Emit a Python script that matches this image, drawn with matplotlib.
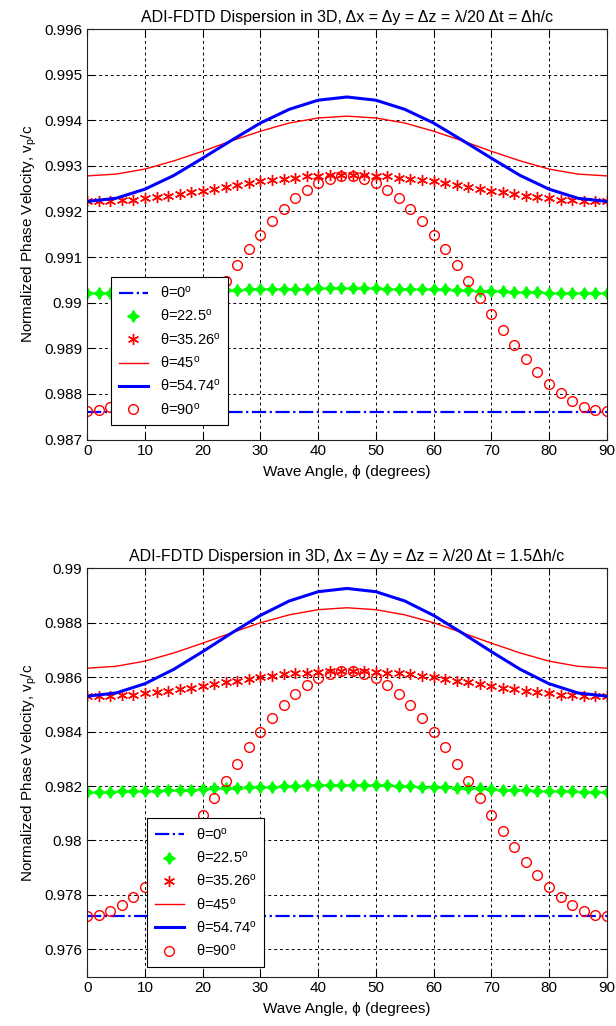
import numpy as np
import matplotlib
matplotlib.use("Agg")
import matplotlib.pyplot as plt

plt.rcParams['font.family'] = ['Liberation Sans', 'DejaVu Sans']
plt.rcParams['mathtext.fontset'] = 'custom'
plt.rcParams['mathtext.rm'] = 'Liberation Sans'
plt.rcParams['mathtext.it'] = 'Liberation Sans'

# wave angle samples
phi = list(range(0, 91, 2))      # marker series, 2 degree steps
phi_line = list(range(0, 91, 5))  # line series, 5 degree steps
phi_flat = [0, 90]

labels = [r'θ=0$^{\mathrm{o}}$', r'θ=22.5$^{\mathrm{o}}$', r'θ=35.26$^{\mathrm{o}}$',
          r'θ=45$^{\mathrm{o}}$', r'θ=54.74$^{\mathrm{o}}$', r'θ=90$^{\mathrm{o}}$']

# ---- dt = dh/c ----
a_t0 = [0.98761, 0.98761]
a_t22 = [0.99021, 0.99021, 0.99021, 0.99021, 0.99022, 0.99022, 0.99023, 0.99023,
         0.99024, 0.99025, 0.99026, 0.99026, 0.99027, 0.99028, 0.99029, 0.99029,
         0.99030, 0.99030, 0.99031, 0.99031, 0.99032, 0.99032, 0.99032,
         0.99032, 0.99032, 0.99032, 0.99031, 0.99031, 0.99030, 0.99030, 0.99029,
         0.99029, 0.99028, 0.99027, 0.99026, 0.99026, 0.99025, 0.99024, 0.99023,
         0.99023, 0.99022, 0.99022, 0.99021, 0.99021, 0.99021, 0.99021]
a_t35 = [0.99222, 0.99222, 0.99223, 0.99225, 0.99226, 0.99229, 0.99232, 0.99235,
         0.99238, 0.99242, 0.99246, 0.99250, 0.99254, 0.99258, 0.99262, 0.99266,
         0.99269, 0.99272, 0.99274, 0.99277, 0.99278, 0.99279, 0.99280,
         0.99280, 0.99279, 0.99278, 0.99277, 0.99274, 0.99272, 0.99269, 0.99266,
         0.99262, 0.99258, 0.99254, 0.99250, 0.99246, 0.99242, 0.99238, 0.99235,
         0.99232, 0.99229, 0.99226, 0.99225, 0.99223, 0.99222, 0.99222]
a_t45 = [0.99278, 0.99282, 0.99293, 0.99311, 0.99332, 0.99355, 0.99376, 0.99394,
         0.99405, 0.99409, 0.99405, 0.99394, 0.99376, 0.99355, 0.99332, 0.99311,
         0.99293, 0.99282, 0.99278]
a_t54 = [0.99222, 0.99229, 0.99249, 0.99279, 0.99317, 0.99356, 0.99394, 0.99424,
         0.99444, 0.99451, 0.99444, 0.99424, 0.99394, 0.99356, 0.99317, 0.99279,
         0.99249, 0.99229, 0.99222]
a_t90 = [0.98762, 0.98765, 0.98772, 0.98784, 0.98801, 0.98822, 0.98847, 0.98876,
         0.98907, 0.98940, 0.98975, 0.99011, 0.99047, 0.99082, 0.99117, 0.99149,
         0.99179, 0.99206, 0.99229, 0.99248, 0.99262, 0.99272, 0.99277,
         0.99277, 0.99272, 0.99262, 0.99248, 0.99229, 0.99206, 0.99179, 0.99149,
         0.99117, 0.99082, 0.99047, 0.99011, 0.98975, 0.98940, 0.98907, 0.98876,
         0.98847, 0.98822, 0.98801, 0.98784, 0.98772, 0.98765, 0.98762]

# ---- dt = 1.5 dh/c ----
b_t0 = [0.97723, 0.97723]
b_t22 = [0.98179, 0.98179, 0.98179, 0.98180, 0.98181, 0.98182, 0.98183, 0.98184,
         0.98186, 0.98187, 0.98189, 0.98191, 0.98192, 0.98194, 0.98196, 0.98197,
         0.98198, 0.98200, 0.98201, 0.98202, 0.98202, 0.98203, 0.98203,
         0.98203, 0.98203, 0.98202, 0.98202, 0.98201, 0.98200, 0.98198, 0.98197,
         0.98196, 0.98194, 0.98192, 0.98191, 0.98189, 0.98187, 0.98186, 0.98184,
         0.98183, 0.98182, 0.98181, 0.98180, 0.98179, 0.98179, 0.98179]
b_t35 = [0.98529, 0.98529, 0.98531, 0.98533, 0.98536, 0.98540, 0.98545, 0.98550,
         0.98555, 0.98561, 0.98568, 0.98574, 0.98581, 0.98587, 0.98594, 0.98600,
         0.98605, 0.98610, 0.98614, 0.98617, 0.98620, 0.98622, 0.98623,
         0.98623, 0.98622, 0.98620, 0.98617, 0.98614, 0.98610, 0.98605, 0.98600,
         0.98594, 0.98587, 0.98581, 0.98574, 0.98568, 0.98561, 0.98555, 0.98550,
         0.98545, 0.98540, 0.98536, 0.98533, 0.98531, 0.98529, 0.98529]
b_t45 = [0.98633, 0.98640, 0.98659, 0.98689, 0.98725, 0.98763, 0.98800, 0.98829,
         0.98848, 0.98855, 0.98848, 0.98829, 0.98800, 0.98763, 0.98725, 0.98689,
         0.98659, 0.98640, 0.98633]
b_t54 = [0.98530, 0.98542, 0.98576, 0.98629, 0.98694, 0.98762, 0.98827, 0.98880,
         0.98914, 0.98926, 0.98914, 0.98880, 0.98827, 0.98762, 0.98694, 0.98629,
         0.98576, 0.98542, 0.98530]
b_t90 = [0.97723, 0.97727, 0.97740, 0.97762, 0.97791, 0.97828, 0.97872, 0.97921,
         0.97976, 0.98034, 0.98095, 0.98157, 0.98220, 0.98282, 0.98342, 0.98398,
         0.98450, 0.98497, 0.98537, 0.98570, 0.98596, 0.98613, 0.98622,
         0.98622, 0.98613, 0.98596, 0.98570, 0.98537, 0.98497, 0.98450, 0.98398,
         0.98342, 0.98282, 0.98220, 0.98157, 0.98095, 0.98034, 0.97976, 0.97921,
         0.97872, 0.97828, 0.97791, 0.97762, 0.97740, 0.97727, 0.97723]

titles = [r'ADI-FDTD Dispersion in 3D, Δx = Δy = Δz = λ/20 Δt = Δh/c',
          r'ADI-FDTD Dispersion in 3D, Δx = Δy = Δz = λ/20 Δt = 1.5Δh/c']

fig = plt.figure(figsize=(6.16, 10.26), dpi=100)
ax1 = fig.add_axes([0.1417, 0.5716, 0.8432, 0.4001])
ax2 = fig.add_axes([0.1417, 0.0482, 0.8432, 0.3979])

star4 = (4, 1, 0)      # four-point star
asterisk = (6, 2, 0)   # six-spoke asterisk


def draw(ax, t0, t22, t35, t45, t54, t90, yticks, ylim, title, leg_xy):
    ax.plot(phi_flat, t0, color='b', ls='-.', lw=1.6, label=labels[0])
    ax.plot(phi, t22, ls='none', marker=star4, ms=8.5, color='#00ff00',
            mec='#00ff00', mew=1.0, label=labels[1])
    ax.plot(phi, t35, ls='none', marker=asterisk, ms=8, color='r',
            mew=1.0, label=labels[2])
    ax.plot(phi_line, t45, color='r', lw=1.0, label=labels[3])
    ax.plot(phi_line, t54, color='b', lw=2.2, label=labels[4])
    ax.plot(phi, t90, ls='none', marker='o', ms=7, mfc='none', mec='r',
            mew=1.0, label=labels[5])

    ax.set_xlim(0, 90)
    ax.set_ylim(*ylim)
    ax.set_xticks(range(0, 91, 10))
    ax.set_yticks(yticks)
    ax.set_yticklabels(['%g' % v for v in yticks])
    ax.tick_params(direction='in', length=5, top=True, right=True,
                   labelsize=11, width=0.8)
    ax.grid(True, color='k', ls=(0, (3, 3)), lw=0.7)
    for s in ax.spines.values():
        s.set_linewidth(0.8)
        s.set_color('#222222')
    ax.set_title(title, fontsize=11.5, pad=5)
    ax.set_xlabel('Wave Angle, ϕ (degrees)', fontsize=11, labelpad=5)
    ax.set_ylabel(r'Normalized Phase Velocity, v$_p$/c', fontsize=11, labelpad=4)
    leg = ax.legend(loc='upper left', bbox_to_anchor=leg_xy, fontsize=10.5,
                    fancybox=False, framealpha=1, edgecolor='k',
                    borderaxespad=0, handlelength=2.0, handletextpad=0.8,
                    borderpad=0.55, labelspacing=0.5)
    leg.get_frame().set_linewidth(0.8)


draw(ax1, a_t0, a_t22, a_t35, a_t45, a_t54, a_t90,
     [0.987, 0.988, 0.989, 0.99, 0.991, 0.992, 0.993, 0.994, 0.995, 0.996],
     (0.987, 0.996), titles[0], (0.045, 0.3966))
draw(ax2, b_t0, b_t22, b_t35, b_t45, b_t54, b_t90,
     [0.976, 0.978, 0.98, 0.982, 0.984, 0.986, 0.988, 0.99],
     (0.975, 0.99), titles[1], (0.1144, 0.3876))

fig.savefig('out.png', dpi=100)
